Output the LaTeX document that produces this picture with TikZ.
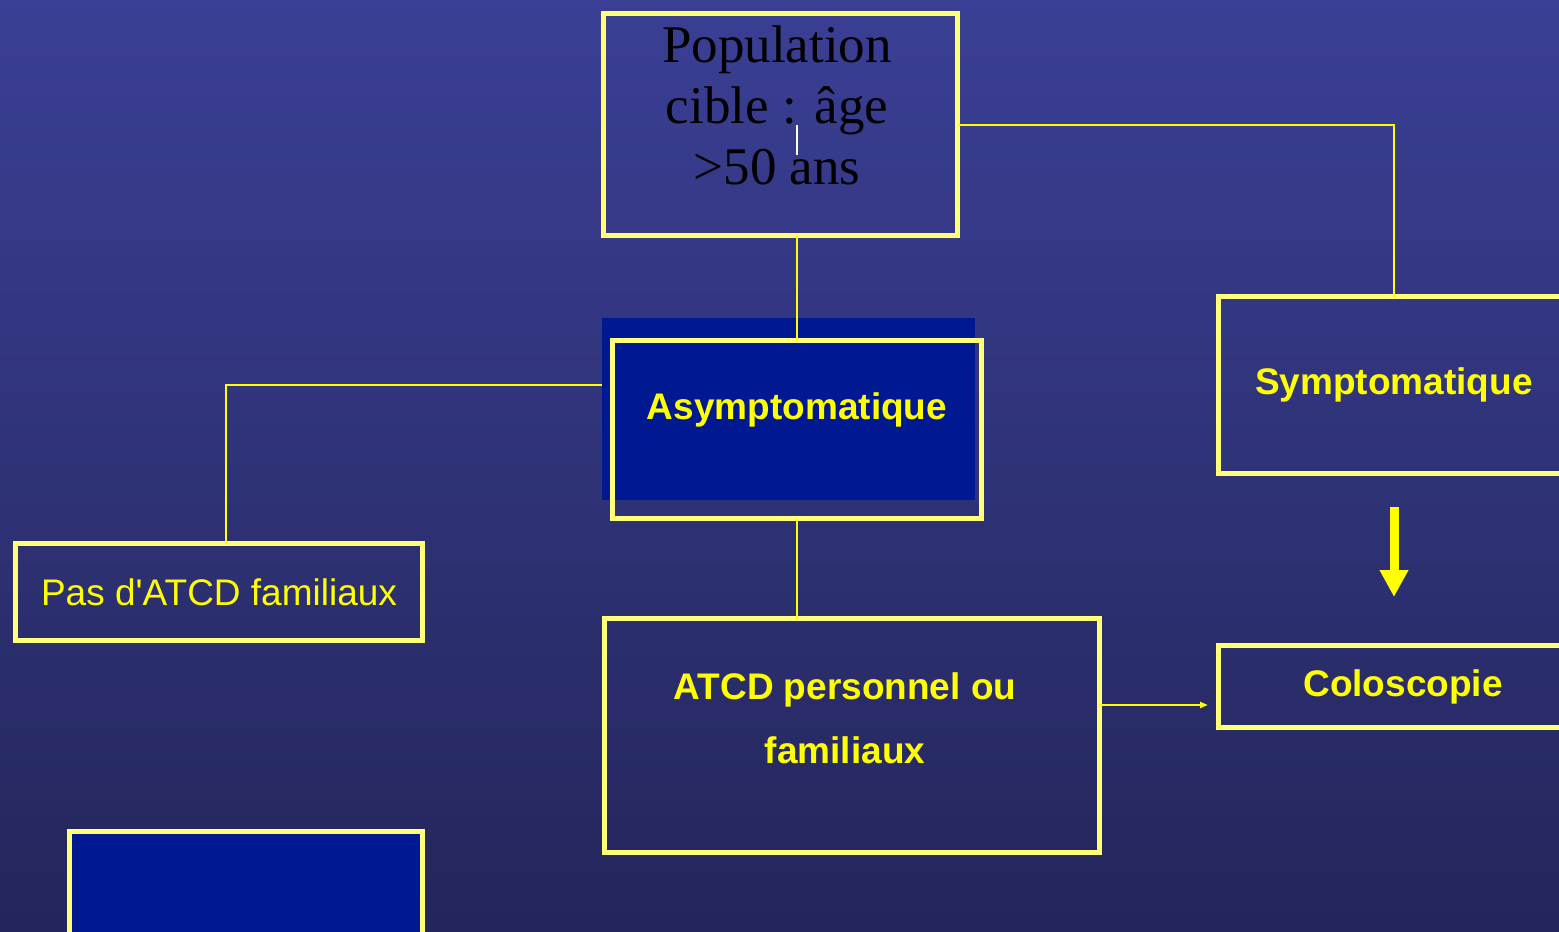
\documentclass[tikz,border=0pt]{standalone}
\usepackage{fontspec}
\setmainfont{Liberation Serif}
\newfontfamily\arialfont{Liberation Sans}
\usepackage{tikz}
\usetikzlibrary{calc}
\usetikzlibrary{arrows.meta}
\definecolor{bgtop}{RGB}{59,63,149}
\definecolor{bgbot}{RGB}{35,38,90}
\definecolor{boxline}{RGB}{255,255,120}
\definecolor{deepblue}{RGB}{0,25,145}
\definecolor{jaune}{RGB}{255,255,0}
\tikzset{box/.style={draw=boxline, line width=2.7pt, inner sep=0, outer sep=0}}
\tikzset{link/.style={draw=jaune, line width=1pt}}
\tikzset{lbl/.style={text=jaune, font=\arialfont\bfseries\fontsize{18.5}{32}\selectfont, align=center}}

\begin{document}
\begin{tikzpicture} [x=.5pt,y=-.5pt]
\useasboundingbox (0,0) rectangle (1559,932);
\clip (0,0) rectangle (1559,932);
\shade[top color=bgtop, bottom color=bgbot] (0,0) rectangle (1559,932);
% boxes
\node[box, minimum width=177pt, minimum height=111pt] (pop) at (780.5,124.5) {};
\node[font=\fontsize{26.5}{30.5}\selectfont, align=center] (popt) at (777,105) {Population\\cible : âge\\>50 ans};
\draw[white!85!yellow, line width=.8pt] (797,125) -- (797,155);
\node[fill=deepblue, inner sep=0, minimum width=186.5pt, minimum height=91pt] (asyfill) at (788.5,409) {};
\node[box, minimum width=184.5pt, minimum height=89pt] (asy) at (797,429.5) {};
\node[lbl] (asyt) at (797,410) {Asymptomatique};
\node[box, lbl, minimum width=175.5pt, minimum height=88.5pt] (sym) at (1394,385) {Symptomatique};
\node[box, lbl, minimum width=184.5pt, minimum height=41pt] (colo) at (1403,686.5) {Coloscopie};
\node[box, minimum width=247.5pt, minimum height=117pt] (atcd) at (852,735.5) {};
\node[lbl] (atcdt) at (845,718.5) {ATCD personnel ou\\familiaux};
\node[box, text=jaune, font=\arialfont\fontsize{18.5}{22}\selectfont, minimum width=203.5pt, minimum height=48.5pt] (pas) at (219,592) {Pas d'ATCD familiaux};
\node[box, fill=deepblue, minimum width=176.5pt, minimum height=60pt] (blank) at (246,891.5) {};
% links
\draw[link] (pop.east) -| (sym.north);
\draw[link] (pop.south -| asy.north) -- (asy.north);
\draw[link] ($(asyfill.west)+(0,-24)$) -| ($(pas.north)+(7,0)$);
\draw[link] (asy.south) -- (asy.south |- atcd.north);
\draw[link, -{Triangle[length=4pt,width=3pt]}] ($(atcd.east)+(0,-30.5)$) -- ($(colo.west)+(-10.5,18.5)$);
\coordinate (arrtop) at (1394,507);
\coordinate (arrend) at (1394,597);
\draw[jaune, line width=4.5pt, -{Triangle[length=13.5pt,width=13.5pt]}] (arrtop) -- (arrend);
\end{tikzpicture}
\end{document}
